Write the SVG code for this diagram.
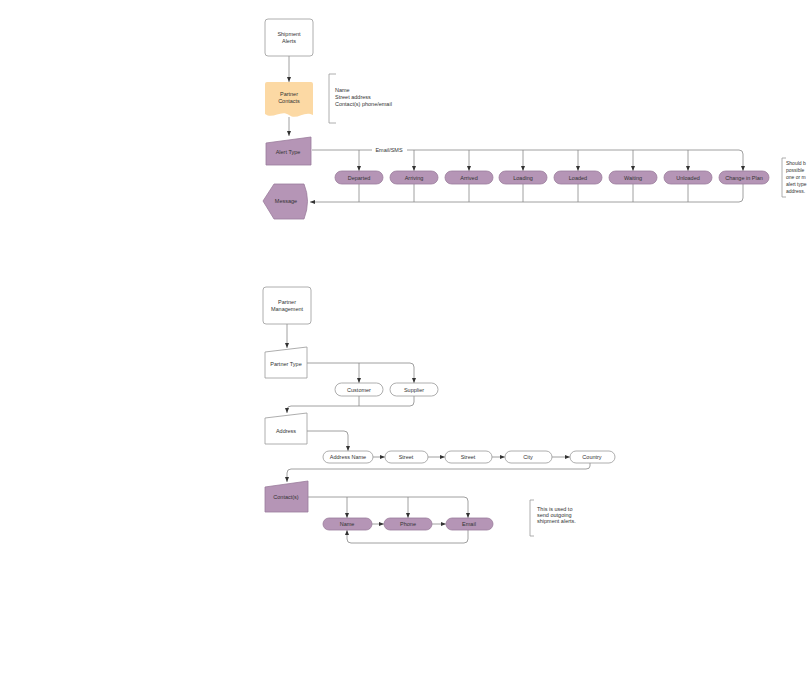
<svg xmlns="http://www.w3.org/2000/svg" width="808" height="693" viewBox="0 0 808 693">
<defs>
<style>
text{font-family:"Liberation Sans",Arial,sans-serif;font-size:5.5px;fill:#333}
.c{text-anchor:middle}
.box{fill:#fff;stroke:#999;stroke-width:0.8}
.pur{fill:#b595b6;stroke:#9b7c9c;stroke-width:0.8}
.pill{fill:#b595b6;stroke:#9b7c9c;stroke-width:0.8}
.wpill{fill:#fff;stroke:#999;stroke-width:0.8}
.ln{fill:none;stroke:#888;stroke-width:0.8}
.br{fill:none;stroke:#999;stroke-width:0.8}
.sm{font-size:5px}
</style>
<marker id="a" markerUnits="userSpaceOnUse" markerWidth="5" markerHeight="5" viewBox="0 0 10 10" refX="10" refY="5" orient="auto">
<path d="M0,1 L10,5 L0,9 Z" fill="#333"/>
</marker>
</defs>
<rect width="808" height="693" fill="#fff"/>

<g id="connectors">
<path class="ln" d="M289,56 V82" marker-end="url(#a)"/>
<path class="ln" d="M289,117 V136" marker-end="url(#a)"/>
<path class="ln" d="M312,150 H739 Q743,150 743,154 V171" marker-end="url(#a)"/>
<path class="ln" d="M359,150 V171" marker-end="url(#a)"/>
<path class="ln" d="M414,150 V171" marker-end="url(#a)"/>
<path class="ln" d="M469,150 V171" marker-end="url(#a)"/>
<path class="ln" d="M523,150 V171" marker-end="url(#a)"/>
<path class="ln" d="M578,150 V171" marker-end="url(#a)"/>
<path class="ln" d="M633,150 V171" marker-end="url(#a)"/>
<path class="ln" d="M688,150 V171" marker-end="url(#a)"/>
<path class="ln" d="M743,184 V198 Q743,202 739,202 H310" marker-end="url(#a)"/>
<path class="ln" d="M359,184 V202 M414,184 V202 M469,184 V202 M523,184 V202 M578,184 V202 M633,184 V202 M688,184 V202"/>
<rect x="372" y="147" width="35" height="6" fill="#fff"/>
<text x="389" y="152" class="c">Email/SMS</text>

<path class="ln" d="M287,324 V348" marker-end="url(#a)"/>
<path class="ln" d="M307,363 H410 Q414,363 414,367 V383" marker-end="url(#a)"/>
<path class="ln" d="M359,363 V383" marker-end="url(#a)"/>
<path class="ln" d="M414,396 V402 Q414,406 410,406 H291 Q287,406 287,410 V413" marker-end="url(#a)"/>
<path class="ln" d="M359,396 V406"/>
<path class="ln" d="M307,431 H344 Q348,431 348,435 V451" marker-end="url(#a)"/>
<path class="ln" d="M373,457 H385" marker-end="url(#a)"/>
<path class="ln" d="M428,457 H445" marker-end="url(#a)"/>
<path class="ln" d="M492,457 H505" marker-end="url(#a)"/>
<path class="ln" d="M552,457 H570" marker-end="url(#a)"/>
<path class="ln" d="M590,463 V466 Q590,469 586,469 H291 Q287,469 287,473 V482" marker-end="url(#a)"/>
<path class="ln" d="M308,497 H464 Q468,497 468,501 V518" marker-end="url(#a)"/>
<path class="ln" d="M347,497 V518" marker-end="url(#a)"/>
<path class="ln" d="M408,497 V518" marker-end="url(#a)"/>
<path class="ln" d="M372,524 H384" marker-end="url(#a)"/>
<path class="ln" d="M432,524 H446" marker-end="url(#a)"/>
<path class="ln" d="M468,530 V539 Q468,543 464,543 H351 Q347,543 347,539 V530" marker-end="url(#a)"/>
</g>

<g id="shipment-alerts">
<rect class="box" x="265" y="19" width="48" height="37" rx="3"/>
<text x="289" y="36" class="c">Shipment</text>
<text x="289" y="43" class="c">Alerts</text>
</g>

<g id="partner-contacts">
<path d="M265,84 Q265,82 267,82 L311,82 Q313,82 313,84 L313,115 C304,110 297,121 289,115 C281,109 273,120 265,114 Z" fill="#fcd9a4"/>
<text x="289" y="96" class="c">Partner</text>
<text x="289" y="103" class="c">Contacts</text>
</g>

<g id="contact-note">
<path class="br" d="M336,74 H329 V123 H336"/>
<text x="335" y="92">Name</text>
<text x="335" y="99">Street address</text>
<text x="335" y="106">Contact(s) phone/email</text>
</g>

<g id="alert-type">
<path class="pur" d="M266,143 L311,137 L311,165 L266,165 Z"/>
<text x="288" y="154" class="c">Alert Type</text>
</g>

<g id="message">
<path class="pur" d="M263,201 L274,184 L304,184 Q311,201 304,219 L274,219 Z"/>
<text x="286" y="203" class="c">Message</text>
</g>

<g id="departed"><rect class="pill" x="335" y="171" width="48" height="13" rx="6.5"/><text x="359" y="179.5" class="c">Departed</text></g>
<g id="arriving"><rect class="pill" x="390" y="171" width="48" height="13" rx="6.5"/><text x="414" y="179.5" class="c">Arriving</text></g>
<g id="arrived"><rect class="pill" x="445" y="171" width="48" height="13" rx="6.5"/><text x="469" y="179.5" class="c">Arrived</text></g>
<g id="loading"><rect class="pill" x="499" y="171" width="48" height="13" rx="6.5"/><text x="523" y="179.5" class="c">Loading</text></g>
<g id="loaded"><rect class="pill" x="554" y="171" width="48" height="13" rx="6.5"/><text x="578" y="179.5" class="c">Loaded</text></g>
<g id="waiting"><rect class="pill" x="609" y="171" width="48" height="13" rx="6.5"/><text x="633" y="179.5" class="c">Waiting</text></g>
<g id="unloaded"><rect class="pill" x="664" y="171" width="48" height="13" rx="6.5"/><text x="688" y="179.5" class="c">Unloaded</text></g>
<g id="change-in-plan"><rect class="pill" x="719" y="171" width="50" height="13" rx="6.5"/><text x="744" y="179.5" class="c">Change in Plan</text></g>

<g id="alert-note">
<path class="br" d="M786,158 H782 V197 H786"/>
<text x="786" y="165" class="sm">Should b</text>
<text x="786" y="172" class="sm">possible</text>
<text x="786" y="179" class="sm">one or m</text>
<text x="786" y="186" class="sm">alert type</text>
<text x="786" y="193" class="sm">address.</text>
</g>

<g id="partner-management">
<rect class="box" x="263" y="287" width="48" height="37" rx="3"/>
<text x="287" y="304" class="c">Partner</text>
<text x="287" y="311" class="c">Management</text>
</g>

<g id="partner-type">
<path class="box" d="M265,352 L307,347 L307,378 L265,378 Z"/>
<text x="286" y="366" class="c">Partner Type</text>
</g>

<g id="customer"><rect class="wpill" x="335" y="383" width="48" height="13" rx="6.5"/><text x="359" y="391.5" class="c">Customer</text></g>
<g id="supplier"><rect class="wpill" x="390" y="383" width="48" height="13" rx="6.5"/><text x="414" y="391.5" class="c">Supplier</text></g>

<g id="address">
<path class="box" d="M265,418 L307,413 L307,444 L265,444 Z"/>
<text x="286" y="433" class="c">Address</text>
</g>

<g id="address-name"><rect class="wpill" x="323" y="451" width="50" height="12" rx="6"/><text x="348" y="459" class="c">Address Name</text></g>
<g id="street"><rect class="wpill" x="385" y="451" width="43" height="12" rx="6"/><text x="406" y="459" class="c">Street</text></g>
<g id="street-2"><rect class="wpill" x="445" y="451" width="47" height="12" rx="6"/><text x="468" y="459" class="c">Street</text></g>
<g id="city"><rect class="wpill" x="505" y="451" width="47" height="12" rx="6"/><text x="528" y="459" class="c">City</text></g>
<g id="country"><rect class="wpill" x="570" y="451" width="45" height="12" rx="6"/><text x="592" y="459" class="c">Country</text></g>

<g id="contacts">
<path class="pur" d="M265,487 L308,481 L308,512 L265,512 Z"/>
<text x="286" y="499" class="c">Contact(s)</text>
</g>

<g id="name"><rect class="pill" x="323" y="518" width="49" height="12" rx="6"/><text x="347" y="526" class="c">Name</text></g>
<g id="phone"><rect class="pill" x="384" y="518" width="48" height="12" rx="6"/><text x="408" y="526" class="c">Phone</text></g>
<g id="email"><rect class="pill" x="446" y="518" width="47" height="12" rx="6"/><text x="469" y="526" class="c">Email</text></g>

<g id="usage-note">
<path class="br" d="M534,500 H530 V536 H534"/>
<text x="537" y="511">This is used to</text>
<text x="537" y="517">send outgoing</text>
<text x="537" y="523">shipment alerts.</text>
</g>
</svg>
